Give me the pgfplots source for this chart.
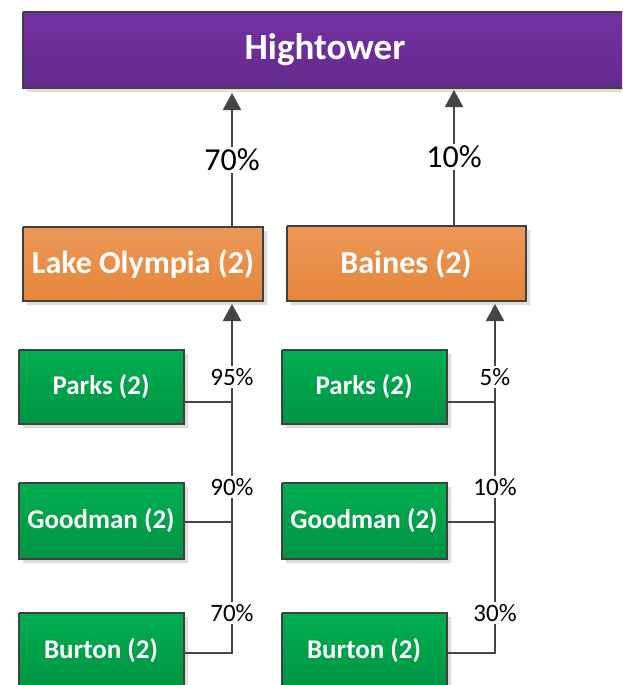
\documentclass[border=0pt]{standalone}
\usepackage{pgfplots}
\pgfplotsset{compat=1.18}
\usepackage{fontspec}
\setmainfont{Carlito}
\usetikzlibrary{arrows.meta}
\definecolor{purpT}{HTML}{7331A1}
\definecolor{purpB}{HTML}{642A8D}
\definecolor{oraT}{HTML}{EC9858}
\definecolor{oraB}{HTML}{E6853A}
\definecolor{grnT}{HTML}{00AF50}
\definecolor{grnB}{HTML}{009343}
\definecolor{edge}{HTML}{404040}
\definecolor{shad}{HTML}{DDDDDD}
\definecolor{conn}{HTML}{454545}
\begin{document}
\begin{tikzpicture}
\begin{axis}[width=622pt,height=685pt,scale only axis,
  xmin=0,xmax=622,ymin=0,ymax=685,y dir=reverse,
  hide axis,clip=true]
\addplot[draw=none] coordinates {(0,0) (622,685)};
% ---- shadows
\addplot[draw=none,fill=shad] coordinates {(27,16) (630,16) (630,92) (27,92) (27,16)};
\addplot[draw=none,fill=shad] coordinates {(27,231) (267,231) (267,305) (27,305) (27,231)};
\addplot[draw=none,fill=shad] coordinates {(291,230) (530,230) (530,305) (291,305) (291,230)};
\addplot[draw=none,fill=shad] coordinates {(23,354) (188,354) (188,428) (23,428) (23,354)};
\addplot[draw=none,fill=shad] coordinates {(286,354) (451,354) (451,428) (286,428) (286,354)};
\addplot[draw=none,fill=shad] coordinates {(23,487) (188,487) (188,563) (23,563) (23,487)};
\addplot[draw=none,fill=shad] coordinates {(286,487) (451,487) (451,563) (286,563) (286,487)};
\addplot[draw=none,fill=shad] coordinates {(23,617) (188,617) (188,694) (23,694) (23,617)};
\addplot[draw=none,fill=shad] coordinates {(286,617) (451,617) (451,694) (286,694) (286,617)};
% ---- boxes
\addplot[draw=edge,line width=1.2pt,top color=purpT,bottom color=purpB] coordinates {(23,12) (630,12) (630,88) (23,88) (23,12)};
\addplot[draw=edge,line width=1.2pt,top color=oraT,bottom color=oraB] coordinates {(23,227) (263,227) (263,301) (23,301) (23,227)};
\addplot[draw=edge,line width=1.2pt,top color=oraT,bottom color=oraB] coordinates {(287,226) (526,226) (526,301) (287,301) (287,226)};
\addplot[draw=edge,line width=1.2pt,top color=grnT,bottom color=grnB] coordinates {(19,350) (184,350) (184,424) (19,424) (19,350)};
\addplot[draw=edge,line width=1.2pt,top color=grnT,bottom color=grnB] coordinates {(282,350) (447,350) (447,424) (282,424) (282,350)};
\addplot[draw=edge,line width=1.2pt,top color=grnT,bottom color=grnB] coordinates {(19,483) (184,483) (184,559) (19,559) (19,483)};
\addplot[draw=edge,line width=1.2pt,top color=grnT,bottom color=grnB] coordinates {(282,483) (447,483) (447,559) (282,559) (282,483)};
\addplot[draw=edge,line width=1.2pt,top color=grnT,bottom color=grnB] coordinates {(19,613) (184,613) (184,690) (19,690) (19,613)};
\addplot[draw=edge,line width=1.2pt,top color=grnT,bottom color=grnB] coordinates {(282,613) (447,613) (447,690) (282,690) (282,613)};
% ---- connectors
\addplot[conn,line width=2pt,-{Triangle[width=18pt,length=17pt]}] coordinates {(232,227) (232,93)};
\addplot[conn,line width=2pt,-{Triangle[width=18pt,length=17pt]}] coordinates {(454,226) (454,90)};
\addplot[conn,line width=2pt,-{Triangle[width=18pt,length=17pt]}] coordinates {(184,653) (232,653) (232,304)};
\addplot[conn,line width=2pt] coordinates {(184,522) (232,522)};
\addplot[conn,line width=2pt] coordinates {(184,402) (232,402)};
\addplot[conn,line width=2pt,-{Triangle[width=18pt,length=17pt]}] coordinates {(447,653) (495,653) (495,304)};
\addplot[conn,line width=2pt] coordinates {(447,522) (495,522)};
\addplot[conn,line width=2pt] coordinates {(447,402) (495,402)};
% ---- box texts
\node[text=white,font=\bfseries\fontsize{37}{44}\selectfont] at (325,50) {Hightower};
\node[text=white,font=\bfseries\fontsize{32}{38}\selectfont] at (143,264) {Lake Olympia (2)};
\node[text=white,font=\bfseries\fontsize{32}{38}\selectfont] at (406,264) {Baines (2)};
\node[text=white,font=\bfseries\fontsize{27}{32}\selectfont] at (101,387) {Parks (2)};
\node[text=white,font=\bfseries\fontsize{27}{32}\selectfont] at (364,387) {Parks (2)};
\node[text=white,font=\bfseries\fontsize{27}{32}\selectfont] at (101,521) {Goodman (2)};
\node[text=white,font=\bfseries\fontsize{27}{32}\selectfont] at (364,521) {Goodman (2)};
\node[text=white,font=\bfseries\fontsize{27}{32}\selectfont] at (101,651) {Burton (2)};
\node[text=white,font=\bfseries\fontsize{27}{32}\selectfont] at (364,651) {Burton (2)};
% ---- percentage labels
\node[fill=white,inner sep=2pt,font=\fontsize{32}{38}\selectfont] at (232,160) {70\%};
\node[fill=white,inner sep=2pt,font=\fontsize{32}{38}\selectfont] at (454,157) {10\%};
\node[fill=white,inner sep=2pt,font=\fontsize{25}{30}\selectfont] at (232,377) {95\%};
\node[fill=white,inner sep=2pt,font=\fontsize{25}{30}\selectfont] at (232,487) {90\%};
\node[fill=white,inner sep=2pt,font=\fontsize{25}{30}\selectfont] at (232,613) {70\%};
\node[fill=white,inner sep=2pt,font=\fontsize{25}{30}\selectfont] at (495,377) {5\%};
\node[fill=white,inner sep=2pt,font=\fontsize{25}{30}\selectfont] at (495,487) {10\%};
\node[fill=white,inner sep=2pt,font=\fontsize{25}{30}\selectfont] at (495,613) {30\%};
\end{axis}
\end{tikzpicture}
\end{document}
